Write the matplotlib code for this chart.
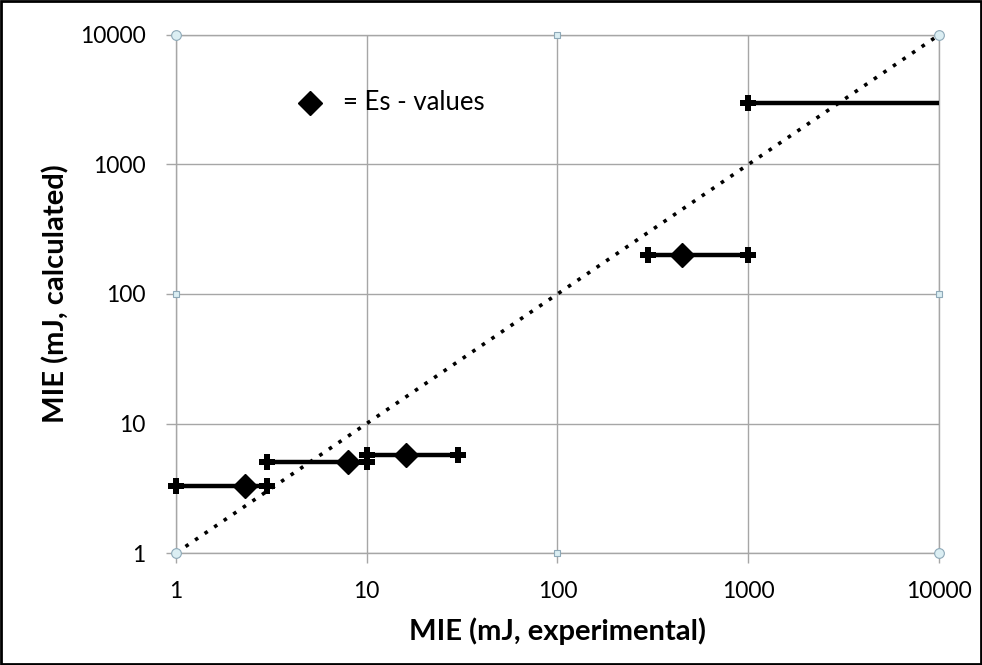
import numpy as np
import matplotlib
matplotlib.use("Agg")
import matplotlib.pyplot as plt
from matplotlib.patches import Rectangle

plt.rcParams["font.family"] = ["Lato", "DejaVu Sans"]

# ranges of experimental MIE (x) vs calculated MIE (y)
x_low = [1, 3, 10, 300, 1000]
x_high = [3, 10, 30, 1000, 10000]
y_calc = [3.3, 5.0, 5.7, 200, 3000]
# Es values (diamonds)
es_x = [2.3, 8, 16, 450]
es_y = [3.3, 5.0, 5.7, 200]

ticks = [1, 10, 100, 1000, 10000]
tick_labels = ["1", "10", "100", "1000", "10000"]

fig = plt.figure(figsize=(9.82, 6.65), dpi=100)
ax = fig.add_axes([0.1792, 0.1684, 0.777, 0.779])

ax.set_xscale("log")
ax.set_yscale("log")
ax.set_xlim(1, 10000)
ax.set_ylim(1, 10000)

# 1:1 line
ax.plot([1, 10000], [1, 10000], color="black", linestyle=(0, (1, 2.2)),
        linewidth=2.6, zorder=3)

for i in range(len(x_low)):
    ax.plot([x_low[i], x_high[i]], [y_calc[i], y_calc[i]], color="black",
            linewidth=3.2, solid_capstyle="butt", zorder=4, clip_on=False)
    ends = [x_low[i], x_high[i]] if i < 4 else [x_low[i]]
    ax.plot(ends, [y_calc[i]] * len(ends), linestyle="none", marker="P",
            markersize=11, color="black", markeredgewidth=0, zorder=5,
            clip_on=False)

ax.plot(es_x, es_y, linestyle="none", marker="D", markersize=12,
        color="black", zorder=6)

ax.set_xticks(ticks)
ax.set_xticklabels(tick_labels)
ax.set_yticks(ticks)
ax.set_yticklabels(tick_labels)
ax.minorticks_off()
ax.grid(True, color="#a6a6a6", linewidth=1)
ax.tick_params(axis="both", which="major", length=7, width=1, color="#a6a6a6",
               labelsize=16.5)
ax.tick_params(axis="x", pad=13)
ax.tick_params(axis="y", pad=15)
for s in ax.spines.values():
    s.set_color("#a6a6a6")
    s.set_linewidth(1)

ax.set_xlabel("MIE (mJ, experimental)", fontsize=21, fontweight="bold", labelpad=11)
ax.set_ylabel("MIE (mJ, calculated)", fontsize=21, fontweight="bold", labelpad=7)

# selection handles at corners / midpoints
hx = [1, 10000, 1, 10000]
hy = [1, 1, 10000, 10000]
ax.plot(hx, hy, linestyle="none", marker="o", markersize=7, markerfacecolor="#dbeef3",
        markeredgecolor="#8ea9b8", markeredgewidth=0.8, clip_on=False, zorder=7)
sx = [100, 100, 1, 10000]
sy = [1, 10000, 100, 100]
ax.plot(sx, sy, linestyle="none", marker="s", markersize=5, markerfacecolor="#dbeef3",
        markeredgecolor="#8ea9b8", markeredgewidth=0.8, clip_on=False, zorder=7)

# legend text box
ax.plot([0.1756], [0.8687], marker="D", markersize=12, color="black",
        transform=ax.transAxes, clip_on=False)
ax.text(0.219, 0.8687, "= Es - values", transform=ax.transAxes, fontsize=18.5,
        va="center", ha="left")

fig.add_artist(Rectangle((0.001, 0.0015), 0.998, 0.997, transform=fig.transFigure,
                         fill=False, edgecolor="black", linewidth=2))

fig.savefig("out.png", dpi=100)
